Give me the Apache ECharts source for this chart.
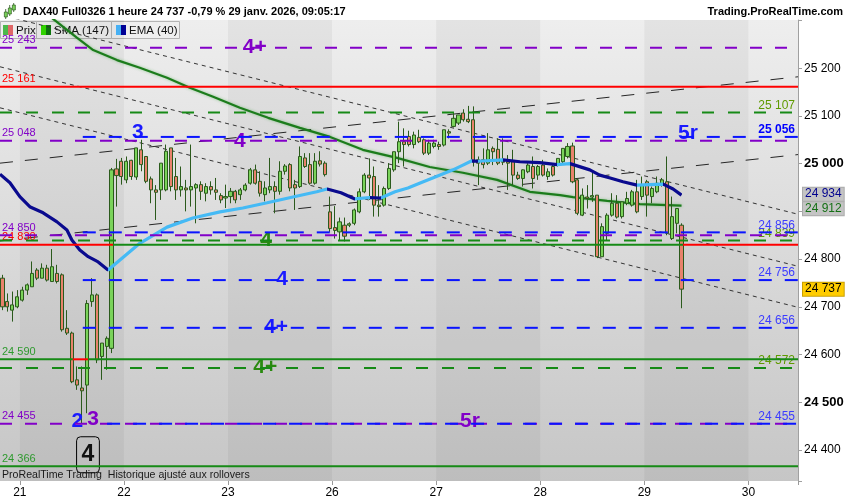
<!DOCTYPE html>
<html><head><meta charset="utf-8">
<script src="https://cdn.jsdelivr.net/npm/echarts@6/dist/echarts.min.js"></script>
<style>html,body{margin:0;padding:0;background:#fff}#c{width:850px;height:500px}</style>
</head><body><div id="c"></div>
<script>
// ---------- data ----------
const dayLabels = ['20','21','22','23','26','27','28','29','30'];
const daySlots  = [4,21,21,21,21,21,21,21,10];

const opens = [24760,24711,24693,24700,24714,24735,24742,24777,24760,24781,24753,24770,24767,24655,24645,24547,24530,24536,24711,24725,24596,24617,24613,24989,25005,24966,25007,24972,25029,25015,24968,24945,24945,24945,25033,24973,24945,24949,24945,24949,24956,24938,24952,24945,24933,24928,24931,24942,24935,24945,24959,24987,24963,24935,24945,24952,24942,24984,24998,24956,24952,25012,24998,24959,25006,25001,24899,24866,24857,24871,24871,24875,24899,24941,24976,24973,24913,24913,24948,24987,25025,25046,25057,25040,25055,25050,25022,25036,25040,25039,25067,25078,25085,25106,25093,25092,25008,25008,25001,25032,25030,25005,25004,25004,24976,24969,24983,24994,24976,24997,24973,24994,24997,25004,25015,25037,24966,24892,24930,24930,24934,24805,24854,24892,24917,24889,24917,24913,24941,24931,24962,24931,24941,24955,24962,24843,24875,24871];
const closes = [24700,24700,24704,24721,24735,24746,24770,24760,24781,24756,24784,24753,24652,24645,24543,24536,24524,24707,24725,24589,24624,24634,24987,24975,24973,25005,24973,25033,24998,24963,24945,24940,25001,25026,24952,24945,24952,24945,24952,24956,24942,24952,24945,24940,24924,24931,24942,24924,24945,24955,24987,24959,24938,24949,24952,24942,24984,24995,24949,24949,25015,24994,24959,25005,24999,24977,24864,24860,24878,24848,24874,24903,24941,24976,24970,24913,24910,24948,24990,25025,25046,25040,25040,25060,25046,25022,25043,25043,25036,25071,25064,25095,25102,25092,25088,25004,25001,24998,25029,25025,25001,25003,25001,24976,24969,24987,24997,24969,24994,24976,24983,24976,25011,25032,25036,24962,24896,24934,24927,24933,24805,24868,24892,24917,24888,24920,24927,24941,24899,24955,24934,24948,24959,24966,24854,24889,24906,24737];
const lows = [24693,24690,24669,24697,24711,24725,24742,24756,24760,24753,24753,24749,24648,24641,24540,24526,24456,24477,24700,24582,24547,24568,24603,24910,24956,24959,24966,24966,24984,24959,24917,24882,24924,24942,24942,24924,24931,24900,24910,24875,24924,24921,24935,24924,24917,24907,24917,24917,24924,24942,24956,24956,24931,24921,24938,24896,24935,24977,24942,24903,24949,24991,24956,24956,24994,24973,24857,24843,24840,24837,24867,24871,24896,24938,24924,24889,24889,24910,24945,24983,25001,24994,25036,25032,25043,25018,25018,25032,25029,25036,25053,25076,25081,25088,25085,24994,24955,24990,24997,24997,24997,24997,24945,24955,24966,24952,24980,24948,24966,24973,24966,24973,24994,25001,25011,24959,24892,24890,24906,24920,24802,24805,24840,24889,24885,24885,24913,24910,24896,24924,24889,24917,24938,24952,24850,24840,24854,24697];
const highs = [24767,24728,24732,24735,24742,24749,24795,24781,24791,24788,24821,24788,24770,24693,24648,24575,24575,24714,24760,24728,24624,24638,24991,25010,25012,25015,25008,25033,25050,25015,24973,24955,25001,25040,25033,25012,24994,24966,25040,24959,24963,24959,24963,24970,24938,24956,24949,24945,24949,24959,24991,24998,24984,24963,25012,24963,25005,24999,25001,24966,25036,25022,25022,25022,25026,25005,24931,24911,24887,24887,24877,24906,24948,24980,25011,24994,24955,24952,25001,25025,25088,25074,25069,25067,25071,25053,25050,25050,25046,25071,25072,25106,25102,25114,25121,25120,25015,25032,25064,25036,25053,25053,25018,25029,24983,24988,25001,25015,24997,25008,24990,25001,25011,25032,25043,25044,24970,24948,24955,24983,24934,24875,24896,24938,24934,24920,24941,24945,24966,24973,24966,24952,24973,24970,25015,24931,24906,24875];

// SMA(147) and EMA(40): [slot index, value]
const smaPoints = [[10,25305],[15,25264],[18.3,25238],[23.1,25217],[27.7,25201],[33.2,25180],[37.8,25159],[42.5,25140],[47.9,25117],[53.6,25096],[60,25075],[66.1,25056],[72.7,25029],[79.6,25012],[86.2,24993],[92.9,24981],[99.8,24966],[106.4,24941],[112.5,24934],[115.1,24930],[122,24922],[128.6,24915],[137,24912]];
const emaPoints = [[-0.5,24978],[1.5,24960],[3.5,24931],[5.6,24909],[8.2,24897],[11,24878],[13,24861],[14,24840],[15.6,24819],[17.3,24805],[19.3,24794],[21.3,24777],[23.7,24798],[27.7,24833],[33.2,24867],[38.4,24886],[43.9,24899],[48.5,24907],[53.4,24918],[58.6,24930],[63.4,24941],[65.5,24947],[68.3,24939],[71.1,24926],[74.1,24929],[76.3,24928],[79.2,24941],[81.8,24949],[84.4,24960],[87.3,24972],[90.9,24987],[92.9,24997],[94.7,25006],[95.9,25005],[101,25008],[104.4,25004],[108.4,25002],[111.9,24998],[114.5,25000],[118.5,24987],[120.5,24976],[122.6,24970],[125.2,24962],[128,24955],[133.3,24957],[135.3,24947],[137,24934]];

// channel lines: [[slot, price],[slot, price]]
const longDashLines  = [[[-0.5,25001],[160.5,25182]], [[-0.5,24838],[160.5,25019]]];
const shortDashLines = [[[-0.5,25312],[160.5,24894]], [[-0.5,25203],[160.5,24785]], [[-0.5,25117],[160.5,24699]]];

// horizontal levels
const purpleLevels = [25243, 25048, 24850, 24455];
const blueLevels = [25056, 24856, 24756, 24656, 24455];
const blueFrom = [16.2, 16.2, 16.2, 16.2, 21.1];
const greenDashLevels = [25107, 24839, 24572];
const redSegments = [[25161,-0.5,160.5],[24830,-0.5,22.3],[24830,137.3,160.5],[24590,14.2,17.25]];
const greenSegments = [[24830,22.3,137.3],[24590,-0.5,14.2],[24590,17.25,160.5],[24366,-0.5,160.5]];
const leftRedLabels = [25161, 24830];
const leftGreenLabels = [24590, 24366];

// wave labels
const waveText  = ['4+','3','4','5r','4','4','4+','4+','2','3','5r','4'];
const waveSlot  = [50.9,27.3,47.9,138.3,53.2,56.4,55.2,53,15.1,18.3,94.3,17.25];
const wavePrice = [25245,25065,25048,25064,24839,24758,24658,24574,24461,24465,24461,24390];
const waveKind  = ['purple','blue','purple','blue','green','blue','blue','green','blue','purple','purple','box'];

const lastPrice = 24737, lastEma = 24934, lastSma = 24912;

// ---------- build ----------
const fmt = v => String(v).replace(/\B(?=(\d{3})+(?!\d))/g, ' ');
const categories = [];
const dayStart = {};
let k = 0;
dayLabels.forEach((d, di) => {
  dayStart[k] = d;
  for (let h = 0; h < daySlots[di]; h++) categories.push(d + '_' + h);
  k += daySlots[di];
});
const nSlots = categories.length;
const candleData = opens.map((o, i) => [o, closes[i], lows[i], highs[i]]);

const FONT = "'Liberation Sans', Arial, sans-serif";
const PURPLE = '#8200c8', BLUE = '#0a14ff', GREEN = '#168a16', RED = '#ff0000';
const NOLINE = {color: 'rgba(0,0,0,0)', width: 1};

// shaded day bands (every other day)
const bands = [];
let acc = 0;
dayLabels.forEach((d, di) => {
  if (di % 2 === 1) bands.push([{xAxis: acc - 0.5}, {xAxis: acc + daySlots[di] - 0.5}]);
  acc += daySlots[di];
});

const levelSeries = [];
const labelItems = [];
function seg(p, x0, x1, color, type) {
  levelSeries.push({type: 'line', xAxisIndex: 1, data: [[x0, p], [x1, p]], showSymbol: false, silent: true, z: 6,
    lineStyle: {color, width: 2, type}});
}
function lab(p, x0, x1, label) {
  labelItems.push([{coord: [x0, p], label, lineStyle: NOLINE}, {coord: [x1, p]}]);
}
const leftLab = (p, color) => ({show: true, position: 'insideStartTop', formatter: fmt(p), color, fontSize: 11, fontFamily: FONT, distance: [2, 2]});
const rightLab = (p, color, bold) => ({show: true, position: 'insideEndTop', formatter: fmt(p), color, fontSize: 12, fontWeight: bold ? 'bold' : 'normal', fontFamily: FONT, distance: [3, 1]});

greenDashLevels.forEach(p => { seg(p, -0.5, 160.5, GREEN, [12, 14]); lab(p, -0.5, 160.5, rightLab(p, '#5f9a00')); });
purpleLevels.forEach(p => { seg(p, -0.5, 160.5, PURPLE, [12, 13]); lab(p, -0.5, 160.5, leftLab(p, PURPLE)); });
blueLevels.forEach((p, i) => { seg(p, blueFrom[i], 160.5, BLUE, [13, 13]); lab(p, blueFrom[i], 160.5, rightLab(p, p === 25056 ? '#0000ff' : '#3c3cff', p === 25056)); });
greenSegments.forEach(s => seg(s[0], s[1], s[2], GREEN, 'solid'));
redSegments.forEach(s => seg(s[0], s[1], s[2], RED, 'solid'));
leftRedLabels.forEach(p => lab(p, -0.5, 160.5, leftLab(p, RED)));
leftGreenLabels.forEach(p => lab(p, -0.5, 160.5, leftLab(p, '#2f9a2f')));

const waveColors = {purple: PURPLE, blue: '#1a1aff', green: '#2a8a10', box: '#111'};
const wavePoints = waveText.map((t, i) => {
  const lb = {show: true, position: 'inside', formatter: t, color: waveColors[waveKind[i]], fontSize: 21, fontWeight: 'bold', fontFamily: FONT};
  if (waveKind[i] === 'box') Object.assign(lb, {fontSize: 23, borderColor: '#000', borderWidth: 1, borderRadius: 4, padding: [7, 5, 6, 5]});
  return {coord: [waveSlot[i], wavePrice[i]], value: t, label: lb};
});

const emaPieces = [];
for (let i = 0; i < emaPoints.length - 1; i++) {
  const up = emaPoints[i + 1][1] > emaPoints[i][1];
  emaPieces.push({gte: emaPoints[i][0], lt: emaPoints[i + 1][0], color: up ? '#45baf5' : '#0a0a8e'});
}
emaPieces[emaPieces.length - 1].lte = emaPieces[emaPieces.length - 1].lt;
delete emaPieces[emaPieces.length - 1].lt;

const priceBox = (p, color, bg, border, dy) => ({yAxis: p, lineStyle: NOLINE,
  label: {show: true, position: 'end', distance: 5, offset: [0, dy], formatter: fmt(p), color, backgroundColor: bg, borderColor: border, borderWidth: 1, padding: [1, 2, 0, 2], fontSize: 12, fontFamily: FONT}});

const dummy = [[0, 24000]];
const series = [
  {type: 'line', xAxisIndex: 1, data: dummy, showSymbol: false, silent: true, z: 0,
   markArea: {silent: true, itemStyle: {color: 'rgba(0,0,0,0.045)'}, data: bands}},
  ...longDashLines.map(l => ({type: 'line', xAxisIndex: 1, data: l, showSymbol: false, silent: true, z: 1,
     lineStyle: {color: '#262626', width: 1, type: [13, 12]}})),
  ...shortDashLines.map(l => ({type: 'line', xAxisIndex: 1, data: l, showSymbol: false, silent: true, z: 1,
     lineStyle: {color: '#333', width: 1, type: [4, 4]}})),
  {type: 'line', id: 'sma', xAxisIndex: 1, data: smaPoints, showSymbol: false, silent: true, z: 3,
   lineStyle: {color: '#1c7c1c', width: 2.2, shadowColor: 'rgba(40,160,40,0.45)', shadowBlur: 3}},
  {type: 'candlestick', xAxisIndex: 0, data: candleData, barWidth: 3.6, z: 4,
   itemStyle: {color: '#7ad35a', color0: '#e8826c', borderColor: '#2b5a1c', borderColor0: '#2b5a1c', borderWidth: 1}},
  {type: 'line', id: 'ema', xAxisIndex: 1, data: emaPoints, showSymbol: false, silent: true, z: 5,
   lineStyle: {width: 3.2}},
  ...levelSeries,
  {type: 'line', xAxisIndex: 1, data: dummy, showSymbol: false, silent: true, z: 7,
   markLine: {silent: true, symbol: ['none', 'none'], animation: false, data: labelItems}},
  {type: 'line', xAxisIndex: 1, data: dummy, showSymbol: false, silent: true, z: 8,
   markPoint: {silent: true, symbol: 'circle', symbolSize: 1, itemStyle: {color: 'rgba(0,0,0,0)'}, data: wavePoints}},
  {type: 'line', xAxisIndex: 1, data: dummy, showSymbol: false, silent: true, z: 9,
   markLine: {silent: true, symbol: ['none', 'none'], animation: false,
     data: [
       priceBox(lastPrice, '#000', '#ffcc00', '#c9a000', 0),
       priceBox(lastEma, '#00008e', '#c4c4c4', '#aaaaaa', -1),
       priceBox(lastSma, '#157015', '#c4c4c4', '#aaaaaa', 3)
     ]}}
];

const chart = echarts.init(document.getElementById('c'), null, {renderer: 'canvas'});
const emaIndex = series.findIndex(s => s.id === 'ema');

chart.setOption({
  animation: false,
  backgroundColor: '#ffffff',
  textStyle: {fontFamily: FONT},
  grid: {left: 0, right: 52, top: 20, bottom: 19, show: true, borderWidth: 0,
    backgroundColor: new echarts.graphic.LinearGradient(0, 0, 0, 1, [{offset: 0, color: '#eeeeee'}, {offset: 1, color: '#c6c6c6'}])},
  visualMap: {type: 'piecewise', show: false, dimension: 0, seriesIndex: emaIndex, pieces: emaPieces},
  xAxis: [
    {type: 'category', data: categories, boundaryGap: true,
     axisLine: {show: false, onZero: false},
     axisTick: {show: true, length: 4, interval: i => dayStart[i] !== undefined && i > 0, lineStyle: {color: '#9a9a9a'}},
     axisLabel: {interval: i => dayStart[i] !== undefined && i > 0, formatter: (v, i) => dayStart[i] || '', color: '#000', fontSize: 12, margin: 6, padding: [0, 5, 0, 0]},
     splitLine: {show: false}},
    {type: 'value', min: -0.5, max: nSlots - 0.5, show: false, axisLine: {onZero: false}}
  ],
  yAxis: {type: 'value', position: 'right', min: 24335, max: 25301, splitNumber: 10, scale: true,
    axisLine: {show: true, onZero: false, lineStyle: {color: '#a0a0a0'}},
    axisTick: {show: true, length: 4, lineStyle: {color: '#a0a0a0'}},
    splitLine: {show: false},
    axisLabel: {color: '#000', fontSize: 12, margin: 6,
      formatter: v => { if (v % 100 !== 0 || v > 25250) return ''; const s = fmt(v); return (v === 25000 || v === 24500) ? '{b|' + s + '}' : s; },
      rich: {b: {fontWeight: 'bold', fontSize: 13, color: '#000'}}}},
  graphic: [
    {type: 'group', left: 4, top: 3, children: [
      {type: 'rect', shape: {x: 1.5, y: 6, width: 0.8, height: 10}, style: {fill: '#2b5a1c'}},
      {type: 'rect', shape: {x: 0.5, y: 9, width: 3, height: 5}, style: {fill: '#7ad35a', stroke: '#2b5a1c', lineWidth: 0.7}},
      {type: 'rect', shape: {x: 5.5, y: 2, width: 0.8, height: 11}, style: {fill: '#2b5a1c'}},
      {type: 'rect', shape: {x: 4.5, y: 5, width: 3, height: 6}, style: {fill: '#7ad35a', stroke: '#2b5a1c', lineWidth: 0.7}},
      {type: 'rect', shape: {x: 9.5, y: 0, width: 0.8, height: 9}, style: {fill: '#2b5a1c'}},
      {type: 'rect', shape: {x: 8.5, y: 2, width: 3, height: 5}, style: {fill: '#7ad35a', stroke: '#2b5a1c', lineWidth: 0.7}}
    ]},
    {type: 'text', left: 23, top: 6, style: {text: 'DAX40 Full0326 1 heure 24 737 -0,79 % 29 janv. 2026, 09:05:17', font: 'bold 11px ' + FONT, fill: '#000'}},
    {type: 'text', right: 7, top: 6, style: {text: 'Trading.ProRealTime.com', font: 'bold 11px ' + FONT, fill: '#000'}},
    {type: 'group', left: 0, top: 21, z: 100, children: [
      {type: 'rect', shape: {x: 0.5, y: 0.5, width: 36, height: 17}, style: {fill: '#efefef', stroke: '#b4b4b4', lineWidth: 1}},
      {type: 'rect', shape: {x: 36.5, y: 0.5, width: 75, height: 17}, style: {fill: '#efefef', stroke: '#b4b4b4', lineWidth: 1}},
      {type: 'rect', shape: {x: 111.5, y: 0.5, width: 68, height: 17}, style: {fill: '#efefef', stroke: '#b4b4b4', lineWidth: 1}},
      {type: 'rect', shape: {x: 3, y: 4, width: 5, height: 10}, style: {fill: '#4cb84c'}},
      {type: 'rect', shape: {x: 8, y: 4, width: 5, height: 10}, style: {fill: '#e06868'}},
      {type: 'rect', shape: {x: 41, y: 4, width: 5, height: 10}, style: {fill: '#33dd00'}},
      {type: 'rect', shape: {x: 46, y: 4, width: 5, height: 10}, style: {fill: '#0e7a0e'}},
      {type: 'rect', shape: {x: 116, y: 4, width: 5, height: 10}, style: {fill: '#4ab8ff'}},
      {type: 'rect', shape: {x: 121, y: 4, width: 5, height: 10}, style: {fill: '#000099'}},
      {type: 'text', x: 16, y: 3.5, style: {text: 'Prix', font: '11.5px ' + FONT, fill: '#111'}},
      {type: 'text', x: 54, y: 3.5, style: {text: 'SMA (147)', font: '11.5px ' + FONT, fill: '#111'}},
      {type: 'text', x: 129, y: 3.5, style: {text: 'EMA (40)', font: '11.5px ' + FONT, fill: '#111'}}
    ]},
    {type: 'text', left: 2, top: 470, z: 50, style: {text: 'ProRealTime Trading  Historique ajusté aux rollovers', font: '10.6px ' + FONT, fill: '#1a1a1a'}}
  ],
  series
});
</script>
</body></html>
